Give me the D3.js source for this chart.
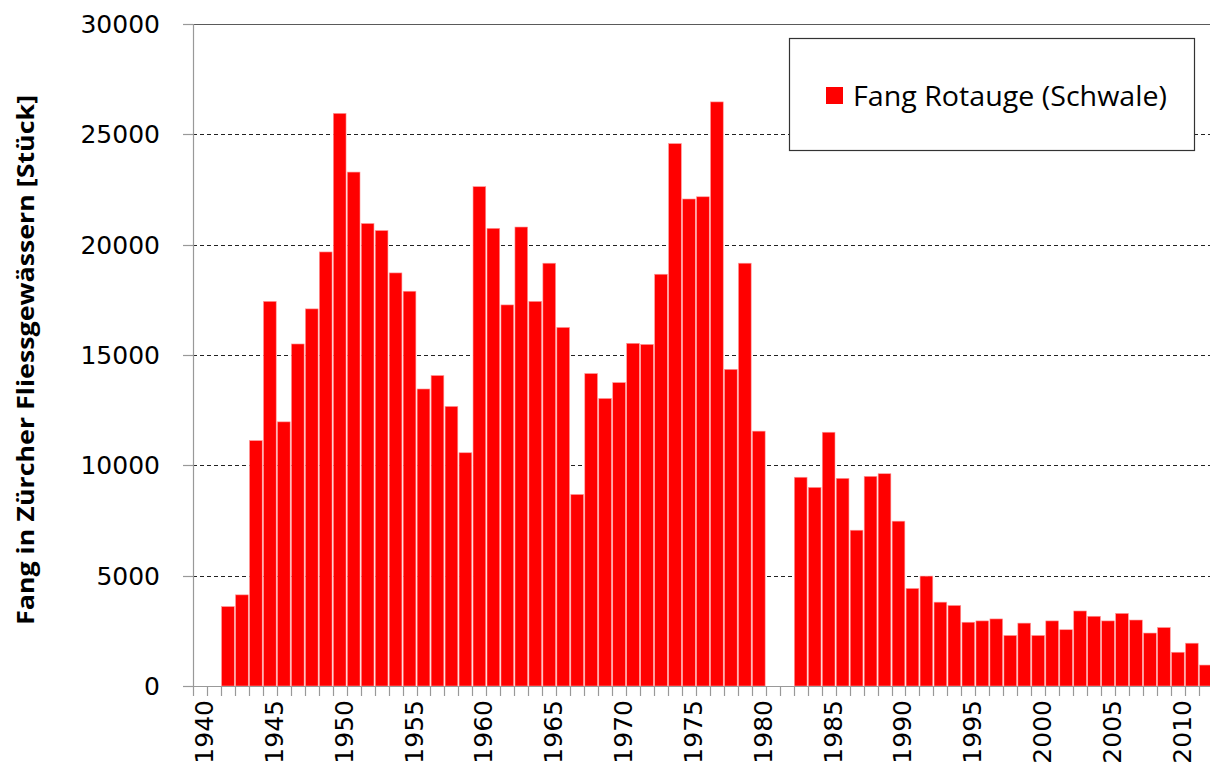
<!DOCTYPE html>
<html>
<head>
  <meta charset="utf-8">
  <title>Fang Rotauge (Schwale)</title>
  <style>
    body {
      background-color: white;
      margin: 0;
      padding: 0;
    }
    svg {
      display: block;
    }
    .tick-label {
      font-family: "DejaVu Sans", Verdana, sans-serif;
      font-size: 25px;
      fill: #000;
    }
  </style>
</head>
<body>
  <div id="chart-container"></div>

  <script src="https://d3js.org/d3.v7.min.js"></script>
  <script>
    // Years shown on the category axis (1940 - 2012)
    const years = d3.range(1940, 2013);

    // Catch per year (null = no value reported)
    const catches = [
      null, null, 3600, 4130, 11120, 17430, 11970, 15500, 17090, 19670,
      25950, 23290, 20960, 20640, 18720, 17890, 13460, 14070, 12670, 10570,
      22630, 20740, 17270, 20800, 17430, 19160, 16250, 8680, 14160, 13030,
      13750, 15530, 15480, 18660, 24580, 22070, 22170, 26470, 14350, 19160,
      11550, null, null, 9460, 9000, 11500, 9410, 7060, 9500, 9620,
      7470, 4420, 4980, 3800, 3650, 2890, 2950, 3040, 2290, 2850,
      2290, 2950, 2550, 3400, 3160, 2950, 3290, 2990, 2400, 2650,
      1530, 1940, 950
    ];

    const yTicks = [0, 5000, 10000, 15000, 20000, 25000, 30000];
    const xLabels = [1940, 1945, 1950, 1955, 1960, 1965, 1970, 1975, 1980,
                     1985, 1990, 1995, 2000, 2005, 2010];
    const seriesName = 'Fang Rotauge (Schwale)';
    const yTitle = 'Fang in Zürcher Fliessgewässern [Stück]';

    const width = 1210, height = 773;
    const margin = { left: 193, top: 24, bottom: 87 };
    const bandW = 13.97;
    const plotRight = margin.left + years.length * bandW;
    const plotBottom = height - margin.bottom;

    const svg = d3.select('#chart-container').append('svg')
      .attr('width', width)
      .attr('height', height);

    const x = d3.scaleBand()
      .domain(years)
      .range([margin.left, plotRight])
      .paddingInner(0.09)
      .paddingOuter(0.045);

    const y = d3.scaleLinear()
      .domain([0, 30000])
      .range([plotBottom, margin.top]);

    // horizontal gridlines (dashed)
    svg.selectAll('.grid')
      .data(yTicks.filter(d => d > 0 && d < 30000))
      .enter()
      .append('line')
      .attr('class', 'grid')
      .attr('x1', margin.left)
      .attr('x2', width)
      .attr('y1', d => Math.round(y(d)) + 0.5)
      .attr('y2', d => Math.round(y(d)) + 0.5)
      .style('stroke', '#222')
      .style('stroke-width', 1)
      .style('stroke-dasharray', '4,3');

    // top line at 30000
    svg.append('line')
      .attr('x1', margin.left)
      .attr('x2', width)
      .attr('y1', Math.round(y(30000)) + 0.5)
      .attr('y2', Math.round(y(30000)) + 0.5)
      .style('stroke', '#5a5a5a')
      .style('stroke-width', 1.2);

    // y tick marks
    svg.selectAll('.ytick')
      .data(yTicks)
      .enter()
      .append('line')
      .attr('x1', margin.left - 10)
      .attr('x2', margin.left)
      .attr('y1', d => Math.round(y(d)) + 0.5)
      .attr('y2', d => Math.round(y(d)) + 0.5)
      .style('stroke', '#999')
      .style('stroke-width', 1.2);

    // bars
    const data = years.map((yr, i) => ({ year: yr, value: catches[i] }))
      .filter(d => d.value !== null);

    svg.selectAll('.bar')
      .data(data)
      .enter()
      .append('rect')
      .attr('class', 'bar')
      .attr('x', d => x(d.year))
      .attr('y', d => y(d.value))
      .attr('width', x.bandwidth())
      .attr('height', d => y(0) - y(d.value))
      .style('fill', '#ff0000')
      .style('stroke', '#ff9a9a')
      .style('stroke-width', 0.6);

    // left axis line
    svg.append('line')
      .attr('x1', margin.left + 0.5)
      .attr('x2', margin.left + 0.5)
      .attr('y1', y(30000))
      .attr('y2', plotBottom)
      .style('stroke', '#999')
      .style('stroke-width', 1.2);

    // bottom axis line
    svg.append('line')
      .attr('x1', margin.left - 10)
      .attr('x2', width)
      .attr('y1', plotBottom + 0.5)
      .attr('y2', plotBottom + 0.5)
      .style('stroke', '#999')
      .style('stroke-width', 1.2);

    // x tick marks at category boundaries
    const step = x.step();
    svg.selectAll('.xtick')
      .data(years)
      .enter()
      .append('line')
      .attr('x1', d => Math.round(x(d) - x.paddingOuter() * step) + 0.5)
      .attr('x2', d => Math.round(x(d) - x.paddingOuter() * step) + 0.5)
      .attr('y1', plotBottom)
      .attr('y2', plotBottom + 10)
      .style('stroke', '#999')
      .style('stroke-width', 1.2);

    // y tick labels
    svg.selectAll('.ylabel')
      .data(yTicks)
      .enter()
      .append('text')
      .attr('class', 'tick-label')
      .attr('x', 160)
      .attr('y', d => y(d))
      .attr('dy', '0.36em')
      .attr('text-anchor', 'end')
      .text(d => d);

    // x tick labels, rotated
    svg.selectAll('.xlabel')
      .data(xLabels)
      .enter()
      .append('text')
      .attr('class', 'tick-label')
      .attr('text-anchor', 'end')
      .attr('transform', d => `translate(${x(d) + x.bandwidth() / 2 + 0.5},${plotBottom + 14}) rotate(-90)`)
      .attr('dy', '0.5em')
      .text(d => d);

    // y axis title
    svg.append('text')
      .attr('transform', `translate(26,${(95 + 625) / 2}) rotate(-90)`)
      .attr('text-anchor', 'middle')
      .attr('dy', '0.35em')
      .style('font-family', '"Open Sans", Lato, sans-serif')
      .style('font-weight', 'bold')
      .style('font-size', '23px')
      .attr('textLength', 530)
      .attr('lengthAdjust', 'spacingAndGlyphs')
      .text(yTitle);

    // legend
    const legend = svg.append('g');
    legend.append('rect')
      .attr('x', 789.5)
      .attr('y', 38.5)
      .attr('width', 405)
      .attr('height', 112)
      .style('fill', 'white')
      .style('stroke', '#333')
      .style('stroke-width', 1.2);
    legend.append('rect')
      .attr('x', 826)
      .attr('y', 87)
      .attr('width', 17)
      .attr('height', 17)
      .style('fill', '#ff0000');
    legend.append('text')
      .attr('x', 853)
      .attr('y', 96)
      .attr('dy', '0.36em')
      .style('font-family', '"Open Sans", Lato, sans-serif')
      .style('font-size', '27px')
      .attr('textLength', 314)
      .attr('lengthAdjust', 'spacingAndGlyphs')
      .text(seriesName);
  </script>
</body>
</html>
